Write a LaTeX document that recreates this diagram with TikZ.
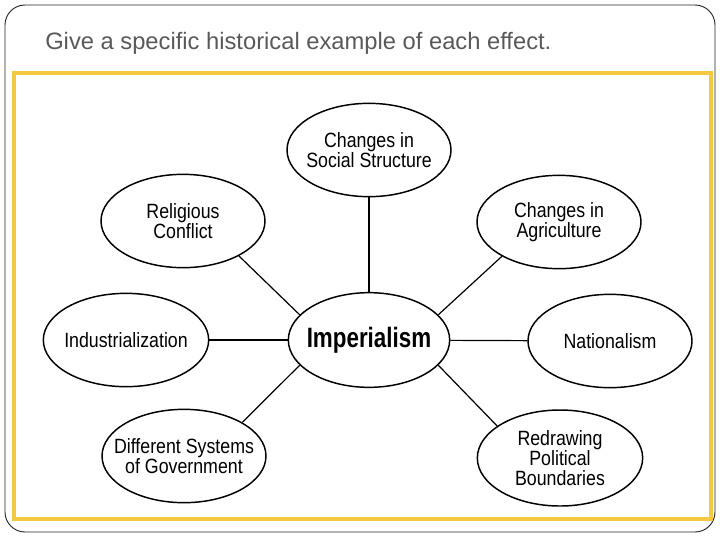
\documentclass[tikz,border=0pt]{standalone}
\usepackage{xcolor}
\usepackage{fontspec}
\setmainfont{Liberation Sans}
\newfontfamily\narrowfont[FakeStretch=0.86]{Liberation Sans}
\newfontfamily\impfont[FakeStretch=0.8]{Liberation Sans}
\usepackage{tikz}
\usetikzlibrary{shapes.geometric,positioning}
\definecolor{frameyellow}{RGB}{245,200,66}
\definecolor{titlegray}{RGB}{89,89,89}

\begin{document}
\begin{tikzpicture}[x=0.75pt,y=-0.75pt,
	effect/.style={ellipse,draw,line width=1.1pt,minimum width=123pt,minimum height=70pt,inner sep=0pt},
	efftext/.style={inner sep=0pt,align=center,font=\narrowfont\fontsize{15.5}{15}\selectfont}]
		\useasboundingbox (0,0) rectangle (720,540);
		\draw[rounded corners=15pt,line width=0.7pt,black!85] (5,5) rectangle (715,532);
		\draw[frameyellow,line width=3pt] (14,73) rectangle (711,519);
		\node[anchor=base west,inner sep=0pt,text=titlegray,font=\fontsize{17.8}{20}\selectfont] (title) at (45,49) {Give a specific historical example of each effect.};

		\node[effect,minimum width=121pt,minimum height=71pt,label={[efftext,font=\impfont\bfseries\fontsize{21}{24}\selectfont]center:Imperialism}] (imp) at (369,340) {};
		\node[effect,label={[efftext]center:Changes in\\Social Structure}] (social) at (369,150) {};
		\node[effect,label={[efftext]center:Religious\\Conflict}] (religion) at (183,221) {};
		\node[effect,label={[efftext]center:Changes in\\Agriculture}] (agri) at (559,222) {};
		\node[effect,minimum width=124pt,label={[efftext]center:Industrialization}] (indus) at (126,340) {};
		\node[effect,label={[efftext]center:Nationalism}] (nation) at (610,341) {};
		\node[effect,label={[efftext]center:Different Systems\\of Government}] (gov) at (184,456) {};
		\node[effect,minimum width=124pt,minimum height=72pt,label={[efftext]center:Redrawing\\Political\\Boundaries}] (borders) at (560,458) {};

		\draw[line width=0.9pt] (imp)--(social);
		\draw[line width=0.9pt] (imp.160)--(religion.-32);
		\draw[line width=0.9pt] (imp.20)--(agri.-149);
		\draw[line width=0.9pt] (imp)--(indus);
		\draw[line width=0.9pt] (imp)--(nation);
		\draw[line width=0.9pt] (imp.-160)--(gov.30);
		\draw[line width=0.9pt] (imp.-20)--(borders.153);
	\end{tikzpicture}
\end{document}
